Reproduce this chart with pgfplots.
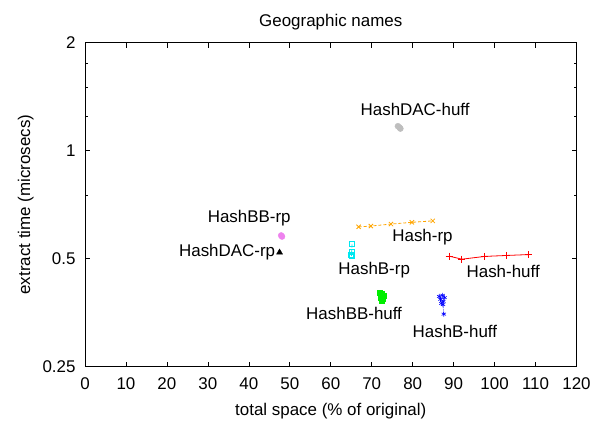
\documentclass[border=0pt]{standalone}
\usepackage{fontspec}
\setmainfont{Liberation Sans}
\usepackage{pgfplots}
\pgfplotsset{compat=1.18}

\definecolor{gporange}{HTML}{FFA500}
\definecolor{gpcyan}{HTML}{00E8F0}
\definecolor{gpviolet}{HTML}{EE82EE}
\definecolor{gpgreen}{HTML}{00EE00}
\definecolor{gpblue}{HTML}{0000FF}
\definecolor{gpgray}{HTML}{BEBEBE}

\begin{document}
\begin{tikzpicture}[font=\fontsize{17}{20}\selectfont]
\begin{axis}[
  scale only axis, width=491.5bp, height=323.8bp,
  xmin=0, xmax=120, ymin=0.25, ymax=2,
  ymode=log,
  xtick={0,10,20,30,40,50,60,70,80,90,100,110,120},
  xticklabels={0,10,20,30,40,50,60,70,80,90,100,110,120},
  ytick={0.25,0.5,1,2}, yticklabels={0.25,0.5,1,2},
  yminorticks=false,
  extra y ticks={0.75,1.25,1.5,1.75}, extra y tick labels={},
  extra y tick style={major tick length=2.7bp},
  tick align=inside,
  major tick length=5bp,
  axis line style={black, line width=0.8bp},
  tick style={black, line width=0.6bp},
  xticklabel style={yshift=-8bp},
  yticklabel style={xshift=-6bp},
  title={Geographic names},
  title style={yshift=3bp},
  xlabel={total space (\% of original)},
  xlabel style={yshift=-6bp},
  ylabel={extract time (microsecs)},
  ylabel style={yshift=2bp},
  clip=false,
]
% Hash-huff
\addplot[red, line width=0.8bp, mark=+, mark size=3.5bp] coordinates {
  (88.9,0.508) (92.0,0.498) (97.6,0.507) (102.8,0.510) (108.3,0.513)};
% Hash-rp
\addplot[gporange, line width=0.8bp, densely dashed, mark=x, mark size=3bp, mark options={solid}] coordinates {
  (66.8,0.613) (69.8,0.616) (74.7,0.624) (79.8,0.631) (84.9,0.637)};
% HashB-rp
\addplot[gpcyan, line width=0.8bp, densely dashed, mark=square, mark size=2.5bp, mark options={solid}] coordinates {
  (65.2,0.548) (65.1,0.522) (65.0,0.512) (65.1,0.508)};
% HashDAC-rp
\addplot[black, only marks, mark=triangle*, mark size=3.5bp] coordinates {
  (47.5,0.520)};
% HashBB-rp
\addplot[gpviolet, only marks, mark=*, mark size=3bp] coordinates {
  (47.9,0.580) (48.1,0.576)};
% HashBB-huff
\addplot[gpgreen, only marks, mark=square*, mark size=2.5bp] coordinates {
  (72.0,0.402) (72.4,0.398) (73.0,0.394) (72.2,0.390) (72.8,0.386) (72.5,0.382)};
% HashB-huff
\addplot[gpblue, line width=0.6bp, densely dotted, mark=asterisk, mark size=2.5bp, mark options={solid}] coordinates {
  (86.5,0.392) (87.3,0.395) (87.8,0.389) (86.8,0.385) (87.5,0.380) (87.0,0.375) (87.4,0.372) (87.6,0.350)};
% HashDAC-huff
\addplot[gpgray, only marks, mark=*, mark size=3bp] coordinates {
  (76.4,1.170) (76.8,1.160) (77.0,1.152)};

\node at (axis cs:80.6,1.306) {HashDAC-huff};
\node at (axis cs:40.1,0.647) {HashBB-rp};
\node at (axis cs:34.7,0.520) {HashDAC-rp};
\node at (axis cs:82.4,0.575) {Hash-rp};
\node at (axis cs:70.6,0.464) {HashB-rp};
\node at (axis cs:102.1,0.461) {Hash-huff};
\node at (axis cs:65.7,0.352) {HashBB-huff};
\node at (axis cs:90.3,0.3124) {HashB-huff};
\end{axis}
\pgfresetboundingbox
\path ([shift={(-85bp,-55.5bp)}]current axis.south west) rectangle ([shift={(29.5bp,42.7bp)}]current axis.north east);
\end{tikzpicture}
\end{document}
